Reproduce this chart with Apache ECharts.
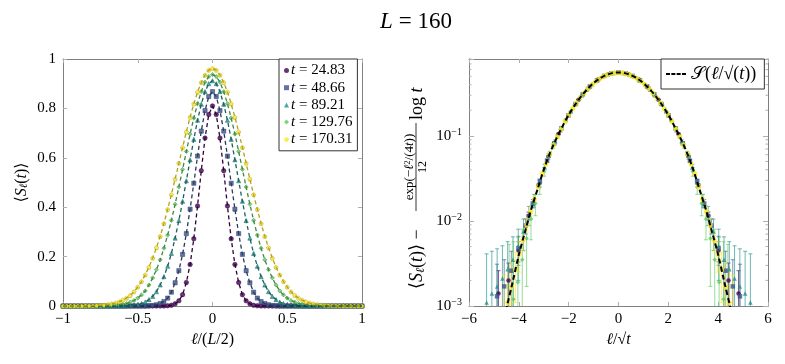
<!DOCTYPE html>
<html>
<head>
<meta charset="utf-8">
<script src="https://cdn.jsdelivr.net/npm/echarts@6/dist/echarts.min.js"></script>
<style>
  html, body { margin: 0; padding: 0; background: #fff; }
  #main { width: 785px; height: 364px; }
</style>
</head>
<body>
<div id="main"></div>
<script>
// system size and times
const L = 160;
const times = [24.83, 48.66, 89.21, 129.76, 170.31];
const colors = ['#440154', '#3b528b', '#21918c', '#5ec962', '#fde725'];
const darkColors = ['#2e0139', '#28385f', '#16625f', '#3f8942', '#b2a21a'];
const symbols = ['circle', 'rect', 'triangle', 'diamond',
    'path://M0,-1 L0.951,-0.309 L0.588,0.809 L-0.588,0.809 L-0.951,-0.309Z'];

// site positions ell (left panel)
const ell = [-80,-78,-76,-74,-72,-70,-68,-66,-64,-62,-60,-58,-56,-54,-52,-50,-48,-46,-44,-42,-40,
    -38,-36,-34,-32,-30,-28,-26,-24,-22,-20,-18,-16,-14,-12,-10,-8,-6,-4,-2,0,
    2,4,6,8,10,12,14,16,18,20,22,24,26,28,30,32,34,36,38,40,
    42,44,46,48,50,52,54,56,58,60,62,64,66,68,70,72,74,76,78,80];

// <S_l(t)> on the left panel, one value per ell
const sPurple = [0,0,0,0,0,0,0, 0,0,0,0,0,0,0, 0,0,0,0,0,0,0, 0,0,0,0,0,0,0,
    0.001,0.003,0.009,0.021,0.046,0.095,0.168,0.272,0.405,0.548,0.680,0.775,0.810,
    0.775,0.680,0.548,0.405,0.272,0.168,0.095,0.046,0.021,0.009,0.003,0.001,
    0,0,0,0,0,0,0, 0,0,0,0,0,0,0, 0,0,0,0,0,0,0, 0,0,0,0,0,0,0];
const sBlue = [0,0,0,0,0,0,0,0,0,0,0,0,0,0,0,0,0,0,0,0,0,0,0,
    0.001,0.002,0.005,0.010,0.018,0.032,0.056,0.094,0.143,0.209,0.293,0.392,0.497,0.607,0.708,0.791,0.848,0.868,
    0.848,0.791,0.708,0.607,0.497,0.392,0.293,0.209,0.143,0.094,0.056,0.032,0.018,0.010,0.005,0.002,0.001,
    0,0,0,0,0,0,0,0,0,0,0,0,0,0,0,0,0,0,0,0,0,0,0];
const sTeal = [0,0,0,0,0,0,0,0,0,0,0,0,0,0,0,0,0,
    0.001,0.002,0.004,0.006,0.010,0.016,0.026,0.039,0.058,0.085,0.119,0.161,0.213,0.275,0.346,0.424,
    0.507,0.592,0.675,0.752,0.817,0.868,0.900,0.912,
    0.900,0.868,0.817,0.752,0.675,0.592,0.507,0.424,0.346,0.275,0.213,0.161,0.119,0.085,0.058,0.039,
    0.026,0.016,0.010,0.006,0.004,0.002,0.001,
    0,0,0,0,0,0,0,0,0,0,0,0,0,0,0,0,0];
const sGreen = [0,0,0,0,0,0,0,0,0,0,0,
    0.001,0.001,0.002,0.003,0.005,0.007,0.010,0.016,0.022,0.032,0.045,0.061,0.085,0.114,0.147,0.187,
    0.234,0.287,0.347,0.412,0.482,0.553,0.626,0.696,0.761,0.819,0.868,0.906,0.929,0.937,
    0.929,0.906,0.868,0.819,0.761,0.696,0.626,0.553,0.482,0.412,0.347,0.287,0.234,0.187,0.147,0.114,
    0.085,0.061,0.045,0.032,0.022,0.016,0.010,0.007,0.005,0.003,0.002,0.001,0.001,
    0,0,0,0,0,0,0,0,0,0,0];
const sYellow = [0,0,0,0,0,0,
    0.001,0.001,0.001,0.002,0.003,0.004,0.006,0.009,0.012,0.017,0.024,0.032,0.043,0.058,0.077,0.099,
    0.126,0.157,0.194,0.236,0.282,0.334,0.391,0.451,0.514,0.578,0.642,0.705,0.764,0.818,0.866,0.905,
    0.935,0.955,0.962,
    0.955,0.935,0.905,0.866,0.818,0.764,0.705,0.642,0.578,0.514,0.451,0.391,0.334,0.282,0.236,0.194,
    0.157,0.126,0.099,0.077,0.058,0.043,0.032,0.024,0.017,0.012,0.009,0.006,0.004,0.003,0.002,
    0.001,0.001,0.001,
    0,0,0,0,0,0];

// rescaled data on the right panel (centred on ell = 0, step 2)
const rPurple = [0.0014,0.0020,0.0045,0.0115,0.026,0.057,0.105,0.174,0.265,0.366,0.462,0.531,0.556,
    0.531,0.462,0.366,0.265,0.174,0.105,0.057,0.026,0.0115,0.0045,0.0020,0.0014];
const rBlue = [0.0013,0.0017,0.0026,0.0048,0.0088,0.016,0.029,0.051,0.0817,0.122,0.174,0.237,0.308,
    0.381,0.449,0.506,0.543,0.556,0.543,0.506,0.449,0.381,0.308,0.237,0.174,0.122,0.0817,0.051,0.029,
    0.016,0.0088,0.0048,0.0026,0.0017,0.0013];
const rTeal = [0.0011,0.0014,0.0017,0.0021,0.0027,0.0035,0.0050,0.0075,0.0118,0.0175,0.028,0.043,
    0.0627,0.0866,0.1165,0.153,0.195,0.243,0.295,0.349,0.403,0.452,0.495,0.528,0.549,0.556,
    0.549,0.528,0.495,0.452,0.403,0.349,0.295,0.243,0.195,0.153,0.1165,0.0866,0.0627,0.043,0.028,
    0.0175,0.0118,0.0075,0.0050,0.0035,0.0027,0.0021,0.0017,0.0014,0.0011];
const rGreen = [0.0008,0.0012,0.0019,0.0035,0.0062,0.0105,0.016,0.025,0.038,0.0573,0.0755,0.0976,
    0.124,0.155,0.190,0.229,0.271,0.315,0.360,0.404,0.445,0.482,0.513,0.537,0.551,0.556,
    0.551,0.537,0.513,0.482,0.445,0.404,0.360,0.315,0.271,0.229,0.190,0.155,0.124,0.0976,0.0755,
    0.0573,0.038,0.025,0.016,0.0105,0.0062,0.0035,0.0019,0.0012,0.0008];
const rYellow = [0.0007,0.0011,0.0017,0.0027,0.0041,0.006,0.009,0.013,0.018,0.0255,0.036,0.047,
    0.0621,0.0787,0.0984,0.121,0.148,0.177,0.210,0.245,0.283,0.3215,0.361,0.399,0.436,0.4695,0.499,
    0.523,0.541,0.552,0.556,
    0.552,0.541,0.523,0.499,0.4695,0.436,0.399,0.361,0.3215,0.283,0.245,0.210,0.177,0.148,0.121,
    0.0984,0.0787,0.0621,0.047,0.036,0.0255,0.018,0.013,0.009,0.006,0.0041,0.0027,0.0017,0.0011,0.0007];
// error bar size per series
const rErr = [0.0012, 0.0018, 0.0030, 0.0045, 0.0016];

// scaling function S(u)
const curveU = [-5,-4.75,-4.5,-4.25,-4,-3.75,-3.5,-3.25,-3,-2.75,-2.5,-2.25,-2,-1.75,-1.5,-1.25,-1,-0.75,-0.5,-0.25,
    0,0.25,0.5,0.75,1,1.25,1.5,1.75,2,2.25,2.5,2.75,3,3.25,3.5,3.75,4,4.25,4.5,4.75,5];
const curveS = [0.0002,0.00043,0.00093,0.0019,0.0040,0.0075,0.0138,0.0235,0.040,0.063,0.092,0.129,0.176,
    0.230,0.291,0.354,0.417,0.473,0.517,0.546,0.556,0.546,0.517,0.473,0.417,0.354,0.291,0.230,0.176,
    0.129,0.092,0.063,0.040,0.0235,0.0138,0.0075,0.0040,0.0019,0.00093,0.00043,0.0002];

const yTicksLeft = [0, 0.2, 0.4, 0.6, 0.8, 1];
const logMinor = [0.002,0.003,0.004,0.005,0.006,0.007,0.008,0.009,
    0.02,0.03,0.04,0.05,0.06,0.07,0.08,0.09, 0.2,0.3,0.4,0.5,0.6,0.7,0.8];

const leftVals = [sPurple, sBlue, sTeal, sGreen, sYellow];
const rightVals = [rPurple, rBlue, rTeal, rGreen, rYellow];

const serif = "'Liberation Serif', 'DejaVu Serif', serif";
const rich = {
    i: {fontStyle: 'italic', fontFamily: serif, fontSize: 16},
    sub: {fontStyle: 'italic', fontFamily: serif, fontSize: 11, verticalAlign: 'bottom', padding: [6, 0, 0, 0]},
    sup: {fontFamily: serif, fontSize: 10, verticalAlign: 'top', padding: [0, 0, 7, 0]},
};
const richBig = {
    i: {fontStyle: 'italic', fontFamily: serif, fontSize: 18},
    sub: {fontStyle: 'italic', fontFamily: serif, fontSize: 12, verticalAlign: 'bottom', padding: [7, 0, 0, 0]},
};
const richLeg = {i: {fontStyle: 'italic', fontFamily: serif, fontSize: 15}};
const minus = v => String(v).replace('-', '\u2212');

const tickStyle = {show: true, inside: true, length: 4, lineStyle: {color: '#b0b0b0'}};
const lineAx = {show: true, onZero: false, lineStyle: {color: '#808080', width: 1}};
const lbl = {color: '#000', fontFamily: serif, fontSize: 15};

var names = times.map(t => 't = ' + t.toFixed(2));
var series = [];

times.forEach((t, k) => {
    var pts = ell.map((l, i) => [l / (L / 2), leftVals[k][i]]);
    series.push({
        name: names[k], type: 'scatter', xAxisIndex: 0, yAxisIndex: 0,
        data: pts, symbol: symbols[k], symbolSize: k == 0 ? 4.5 : 4.2,
        itemStyle: {color: colors[k], borderColor: darkColors[k], borderWidth: 0.6}, z: 2,
    });
    series.push({
        type: 'line', xAxisIndex: 0, yAxisIndex: 0, data: pts, showSymbol: false,
        lineStyle: {color: darkColors[k], width: 1.3, type: [4, 3]}, z: 3, silent: true,
    });
});

times.forEach((t, k) => {
    var vals = rightVals[k];
    var n = vals.length;
    var pts = vals.map((v, i) => [(2 * i - (n - 1)) / Math.sqrt(t), v]);
    series.push({
        type: 'custom', xAxisIndex: 2, yAxisIndex: 2, clip: true, z: 2,
        data: pts.map(p => [p[0], p[1], p[1] - rErr[k], p[1] + rErr[k]]),
        renderItem: function (params, api) {
            var x = api.value(0);
            var p1 = api.coord([x, Math.max(api.value(2), 0.0003)]);
            var p2 = api.coord([x, api.value(3)]);
            var st = {stroke: colors[k], lineWidth: 1, opacity: 0.65};
            return {type: 'group', children: [
                {type: 'line', shape: {x1: p1[0], y1: p1[1], x2: p2[0], y2: p2[1]}, style: st},
                {type: 'line', shape: {x1: p1[0] - 2, y1: p1[1], x2: p1[0] + 2, y2: p1[1]}, style: st},
                {type: 'line', shape: {x1: p2[0] - 2, y1: p2[1], x2: p2[0] + 2, y2: p2[1]}, style: st},
            ]};
        },
    });
    series.push({
        type: 'scatter', xAxisIndex: 2, yAxisIndex: 2, data: pts, clip: true,
        symbol: symbols[k], symbolSize: k == 4 ? 5.5 : 4.5, itemStyle: {color: colors[k]}, z: 2,
    });
});

series.push({
    name: 'S', type: 'line', xAxisIndex: 2, yAxisIndex: 2, smooth: 0.3, clip: true,
    data: curveU.map((u, i) => [u, curveS[i]]), showSymbol: false, z: 5,
    lineStyle: {color: '#000', width: 2, type: [5, 3]}, itemStyle: {color: '#000'},
});

// minor ticks of the log axis
series.push({
    type: 'custom', xAxisIndex: 2, yAxisIndex: 2, z: 1, silent: true,
    data: logMinor.map(v => [0, v]),
    renderItem: function (params, api) {
        var a = api.coord([-6, api.value(1)]);
        var b = api.coord([6, api.value(1)]);
        var st = {stroke: '#b0b0b0', lineWidth: 1};
        return {type: 'group', children: [
            {type: 'line', shape: {x1: a[0], y1: a[1], x2: a[0] + 2.5, y2: a[1]}, style: st},
            {type: 'line', shape: {x1: b[0] - 2.5, y1: b[1], x2: b[0], y2: b[1]}, style: st},
        ]};
    },
});

var myChart = echarts.init(document.getElementById('main'));

var option = {
    animation: false,
    backgroundColor: '#fff',
    grid: [
        {left: 63, top: 59, width: 299, height: 247},
        {left: 469, top: 59, width: 299, height: 247},
    ],
    legend: [
        {
            data: names, orient: 'vertical', left: 279, top: 59, selectedMode: false,
            padding: [4, 5, 4, 5], itemGap: 2.2, itemWidth: 5, itemHeight: 5,
            itemStyle: {borderWidth: 0},
            backgroundColor: '#fff', borderColor: '#333', borderWidth: 1,
            formatter: n => '{i|t} = ' + n.slice(4),
            textStyle: {fontFamily: serif, fontSize: 15, color: '#000', padding: [0, 0, 0, -3], rich: richLeg},
        },
        {
            data: [{name: 'S', icon: 'path://M0,0h4v2H0z M5.3,0h4v2h-4z M10.6,0h4v2h-4z M15.9,0h4v2h-4z'}],
            left: 661, top: 59, selectedMode: false,
            padding: [6, 8, 6, 5], itemWidth: 20, itemHeight: 2.5, itemGap: 2,
            backgroundColor: '#fff', borderColor: '#333', borderWidth: 1,
            formatter: () => '\u{1D4AE}({i|\u2113}/\u221A({i|t}))',
            textStyle: {fontFamily: serif, fontSize: 18, color: '#000', rich: {i: {fontStyle: 'italic', fontFamily: serif, fontSize: 18}}},
        },
    ],
    xAxis: [
        {gridIndex: 0, type: 'value', min: -1, max: 1, interval: 0.5,
            axisLine: lineAx, axisTick: tickStyle, splitLine: {show: false},
            axisLabel: Object.assign({margin: 6, formatter: minus}, lbl),
            name: '{i|\u2113}/({i|L}/2)', nameLocation: 'middle', nameGap: 26,
            nameTextStyle: {fontFamily: serif, fontSize: 16, color: '#000', rich: rich}},
        {gridIndex: 0, type: 'value', position: 'top', min: -1, max: 1, interval: 0.5,
            axisLine: lineAx, axisTick: tickStyle, splitLine: {show: false}, axisLabel: {show: false}},
        {gridIndex: 1, type: 'value', min: -6, max: 6, interval: 2,
            axisLine: lineAx, axisTick: tickStyle, splitLine: {show: false},
            axisLabel: Object.assign({margin: 6, formatter: minus}, lbl),
            name: '{i|\u2113}/\u221A{i|t}', nameLocation: 'middle', nameGap: 26,
            nameTextStyle: {fontFamily: serif, fontSize: 16, color: '#000', rich: rich}},
        {gridIndex: 1, type: 'value', position: 'top', min: -6, max: 6, interval: 2,
            axisLine: lineAx, axisTick: tickStyle, splitLine: {show: false}, axisLabel: {show: false}},
    ],
    yAxis: [
        {gridIndex: 0, type: 'value', min: 0, max: 1, interval: 0.2,
            axisLine: lineAx, axisTick: tickStyle, splitLine: {show: false},
            axisLabel: Object.assign({margin: 7, formatter: v => yTicksLeft.includes(v) ? String(v) : ''}, lbl),
            name: '\u27E8{i|S}{sub|\u2113}({i|t})\u27E9', nameLocation: 'middle', nameGap: 33, nameRotate: 90,
            nameTextStyle: {fontFamily: serif, fontSize: 16, color: '#000', rich: rich}},
        {gridIndex: 0, type: 'value', position: 'right', min: 0, max: 1, interval: 0.2,
            axisLine: lineAx, axisTick: tickStyle, splitLine: {show: false}, axisLabel: {show: false}},
        {gridIndex: 1, type: 'log', logBase: 10, min: 0.001, max: 0.8,
            axisLine: lineAx, axisTick: Object.assign({}, tickStyle, {length: 5}), splitLine: {show: false},
            axisLabel: Object.assign({margin: 7, rich: rich, formatter: function (v) {
                var e = Math.round(Math.log10(v));
                if (Math.abs(Math.log10(v) - e) > 1e-6) return '';
                return '10{sup|\u2212' + (-e) + '}';
            }}, lbl)},
        {gridIndex: 1, type: 'log', logBase: 10, position: 'right', min: 0.001, max: 0.8,
            axisLine: lineAx, axisTick: Object.assign({}, tickStyle, {length: 5}), splitLine: {show: false},
            axisLabel: {show: false}},
    ],
    graphic: [
        {type: 'text', x: 416, y: 22, style: {text: '{i|L} = 160', rich: {i: {fontStyle: 'italic', fontFamily: serif, fontSize: 23}},
            fontFamily: serif, fontSize: 23, fill: '#000', align: 'center', verticalAlign: 'middle'}},
        {type: 'group', x: 417, y: 289, rotation: Math.PI / 2, children: [
            {type: 'text', x: 0, y: 0, style: {text: '\u27E8{i|S}{sub|\u2113}({i|t})\u27E9 \u2212', rich: richBig,
                fontFamily: serif, fontSize: 18, fill: '#000', align: 'left', verticalAlign: 'middle'}},
            {type: 'text', x: 122, y: -7, style: {text: 'exp(\u2212{i|\u2113}{s|2}/(4{i|t}))',
                rich: {i: {fontStyle: 'italic', fontFamily: serif, fontSize: 13}, s: {fontFamily: serif, fontSize: 8, verticalAlign: 'top', padding: [0, 0, 5, 0]}},
                fontFamily: serif, fontSize: 13, fill: '#000', align: 'center', verticalAlign: 'middle'}},
            {type: 'line', shape: {x1: 78, y1: -1, x2: 166, y2: -1}, style: {stroke: '#000', lineWidth: 0.8}},
            {type: 'text', x: 122, y: 6, style: {text: '12', fontFamily: serif, fontSize: 12, fill: '#000',
                align: 'center', verticalAlign: 'middle'}},
            {type: 'text', x: 169, y: 0, style: {text: 'log {i|t}', rich: richBig, fontFamily: serif, fontSize: 18,
                fill: '#000', align: 'left', verticalAlign: 'middle'}},
        ]},
    ],
    series: series,
};

myChart.setOption(option);
</script>
</body>
</html>
